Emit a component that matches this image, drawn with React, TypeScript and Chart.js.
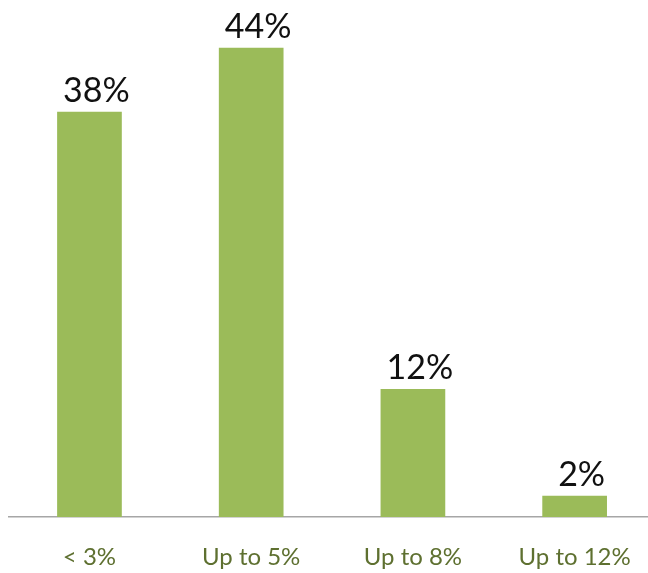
import React, { useEffect, useRef } from "react";
import { Chart, registerables } from "chart.js";

Chart.register(...registerables);

const categories = ["< 3%", "Up to 5%", "Up to 8%", "Up to 12%"];
const shares = [38, 44, 12, 2];
const valueLabels = ["38%", "44%", "12%", "2%"];

const labelPlugin = {
  id: "valueLabels",
  afterDatasetsDraw(chart: any) {
    const ctx = chart.ctx;
    const meta = chart.getDatasetMeta(0);
    ctx.save();
    ctx.font = "34px Lato, 'DejaVu Sans', sans-serif";
    ctx.fillStyle = "#111111";
    ctx.textAlign = "center";
    ctx.textBaseline = "alphabetic";
    meta.data.forEach((bar: any, i: number) => {
      ctx.fillText(valueLabels[i], bar.x + 7, bar.y - 10);
    });
    ctx.restore();
  },
};

export default function App() {
  const ref = useRef<HTMLCanvasElement | null>(null);
  useEffect(() => {
    if (!ref.current) return;
    const chart = new Chart(ref.current, {
      type: "bar",
      data: {
        labels: categories,
        datasets: [
          {
            data: shares,
            backgroundColor: "#9BBB59",
            barPercentage: 0.4,
            categoryPercentage: 1,
          },
        ],
      },
      options: {
        responsive: false,
        animation: false,
        layout: { padding: { left: 8.6, right: 8.5, top: 5, bottom: 1 } },
        plugins: { legend: { display: false }, tooltip: { enabled: false } },
        scales: {
          x: {
            grid: { display: false, drawTicks: false },
            border: { display: true, color: "#A6A6A6", width: 1.5 },
            ticks: {
              color: "#5E7030",
              font: { family: "Lato, 'DejaVu Sans', sans-serif", size: 24 },
              padding: 26,
              maxRotation: 0,
            },
            afterFit: (s: any) => {
              s.height = 55;
            },
          },
          y: {
            display: false,
            min: 0,
            max: 48,
          },
        },
      },
      plugins: [labelPlugin],
    });
    return () => chart.destroy();
  }, []);
  return (
    <div
      style={{
        position: "absolute",
        left: 0,
        top: 0,
        width: 648,
        height: 573,
        overflow: "hidden",
        background: "#ffffff",
      }}
    >
      <canvas ref={ref} width={664} height={573} style={{ display: "block" }} />
    </div>
  );
}
